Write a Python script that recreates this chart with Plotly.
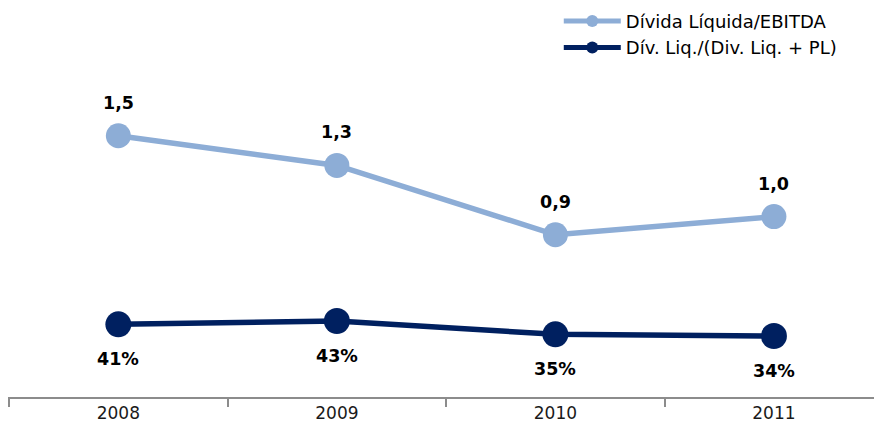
import plotly.graph_objects as go

years = ["2008", "2009", "2010", "2011"]
divida_ebitda = [1.49, 1.31, 0.89, 1.00]
div_liq_pl = [0.41, 0.43, 0.35, 0.34]
name_1 = "Dívida Líquida/EBITDA"
name_2 = "Dív. Liq./(Div. Liq. + PL)"

light = "#8DADD6"
dark = "#002060"
font_family = "Verdana, DejaVu Sans, sans-serif"

fig = go.Figure()
fig.add_trace(go.Scatter(
    x=years, y=divida_ebitda, name=name_1, mode="lines+markers",
    line=dict(color=light, width=5.5), marker=dict(color=light, size=25),
    legendgroup="a", yaxis="y", hoverinfo="x+y",
))
fig.add_trace(go.Scatter(
    x=years, y=div_liq_pl, name=name_2, mode="lines+markers",
    line=dict(color=dark, width=5.5), marker=dict(color=dark, size=26),
    legendgroup="b", yaxis="y2", hoverinfo="x+y",
))

label_font = dict(family=font_family, size=17.5, color="#000000", weight="bold")
for i, v in enumerate(divida_ebitda):
    fig.add_annotation(x=i, y=v, xref="x", yref="y",
                       text=f"{v:.1f}".replace(".", ","), showarrow=False,
                       yshift=33, font=label_font)
for i, v in enumerate(div_liq_pl):
    fig.add_annotation(x=i, y=v, xref="x", yref="y2",
                       text=f"{v * 100:.0f}%", showarrow=False,
                       yshift=-35, font=label_font)

fig.update_layout(
    width=874, height=431,
    margin=dict(l=8, r=0, t=18, b=34),
    paper_bgcolor="white", plot_bgcolor="white",
    separators=",.",
    font=dict(family=font_family, size=15, color="#000000"),
    showlegend=True,
    legend=dict(
        x=0.636, xanchor="left", y=1.04, yanchor="top",
        traceorder="grouped", tracegroupgap=0, itemsizing="constant",
        itemwidth=57,
        font=dict(family=font_family, size=18, color="#000000"),
        bgcolor="rgba(0,0,0,0)",
    ),
    xaxis=dict(
        type="category", range=[-0.505, 3.458], tickson="boundaries",
        showline=True, linecolor="#8C8C8C", linewidth=2,
        ticks="outside", ticklen=8, tickcolor="#8C8C8C", tickwidth=1.5,
        showgrid=False, zeroline=False,
        tickfont=dict(family=font_family, size=17, color="#1a1a1a"),
    ),
    yaxis=dict(range=[-0.0933, 2.2036], visible=False, showgrid=False),
    yaxis2=dict(range=[-0.0251, 2.2443], visible=False, showgrid=False,
                overlaying="y", side="right"),
)

fig.write_html("out.html", config={"displayModeBar": False},
               post_script="document.body.style.margin='0';document.body.style.overflow='hidden';")
